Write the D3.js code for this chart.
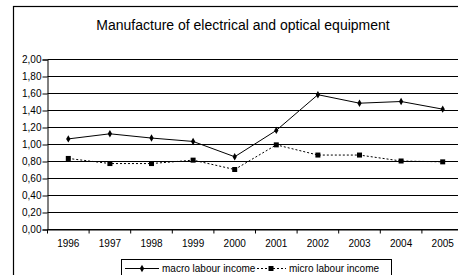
<!DOCTYPE html>
<html>
<head>
<meta charset="utf-8">
<script src="https://cdn.jsdelivr.net/npm/d3@7"></script>
<style>
  body { margin: 0; background: #fff; }
  svg { display: block; font-family: "Liberation Sans", Arial, sans-serif; }
</style>
</head>
<body>
<div id="chart"></div>
<script>
// data
var years = ["1996","1997","1998","1999","2000","2001","2002","2003","2004","2005"];
var macroIncome = [1.06, 1.12, 1.07, 1.03, 0.85, 1.16, 1.58, 1.48, 1.50, 1.41];
var microIncome = [0.83, 0.77, 0.77, 0.81, 0.70, 0.99, 0.87, 0.87, 0.80, 0.79];
var yTicks = [0, 0.2, 0.4, 0.6, 0.8, 1.0, 1.2, 1.4, 1.6, 1.8, 2.0];
var seriesNames = ["macro labour income", "micro labour income"];

var W = 458, H = 275;

var svg = d3.select("#chart")
  .append("svg")
    .attr("width", W)
    .attr("height", H);

// outer chart frame (runs off the right and bottom of the picture)
svg.append("rect")
  .attr("x", 13.5)
  .attr("y", 6.5)
  .attr("width", 500)
  .attr("height", 300)
  .attr("fill", "#fff")
  .attr("stroke", "#000")
  .attr("stroke-width", 1.2);

svg.append("text")
  .attr("x", 243)
  .attr("y", 30)
  .attr("text-anchor", "middle")
  .style("font-size", "14px")
  .style("fill", "#000")
  .text("Manufacture of electrical and optical equipment");

var plotL = 47.5, plotR = 463.5, plotT = 59, plotB = 229;

var x = d3.scaleBand()
  .domain(years)
  .range([plotL, plotR]);

var y = d3.scaleLinear()
  .domain([0, 2])
  .range([plotB, plotT]);

// gridlines
svg.append("g")
  .selectAll("line")
  .data(yTicks)
  .enter()
  .append("line")
    .attr("x1", plotL)
    .attr("x2", plotR)
    .attr("y1", function(d){ return Math.round(y(d)) + 0.5; })
    .attr("y2", function(d){ return Math.round(y(d)) + 0.5; })
    .attr("stroke", "#000")
    .attr("stroke-width", 1);

// y axis
var yAxis = svg.append("g")
  .attr("transform", "translate(" + plotL + ",0.5)")
  .call(d3.axisLeft(y)
    .tickValues(yTicks)
    .tickSize(5)
    .tickPadding(1)
    .tickFormat(function(d){ return d3.format(".2f")(d).replace(".", ","); }));

// x axis, ticks sit between the categories
var xAxis = svg.append("g")
  .attr("transform", "translate(0," + (Math.round(plotB) + 0.5) + ")")
  .call(d3.axisBottom(x).tickSize(0).tickPadding(10));

xAxis.selectAll(".tick")
  .append("line")
    .attr("x1", -x.bandwidth() / 2)
    .attr("x2", -x.bandwidth() / 2)
    .attr("y1", 0)
    .attr("y2", 4)
    .attr("stroke", "#000");

svg.selectAll(".domain").attr("stroke", "#000");
svg.selectAll(".tick text")
  .style("font-size", "10px")
  .style("font-family", "\"Liberation Sans\", Arial, sans-serif")
  .style("fill", "#000");

function cx(d, i) { return x(years[i]) + x.bandwidth() / 2; }

var line = d3.line()
  .x(cx)
  .y(function(d){ return y(d); });

// micro series, dotted with squares
svg.append("path")
  .datum(microIncome)
  .attr("fill", "none")
  .attr("stroke", "#000")
  .attr("stroke-width", 1)
  .attr("stroke-dasharray", "2,2")
  .attr("d", line);

svg.selectAll(".sq")
  .data(microIncome)
  .enter()
  .append("rect")
    .attr("class", "sq")
    .attr("x", function(d, i){ return cx(d, i) - 2.5; })
    .attr("y", function(d){ return y(d) - 2.5; })
    .attr("width", 5)
    .attr("height", 5)
    .attr("fill", "#000");

// macro series, solid with diamonds
svg.append("path")
  .datum(macroIncome)
  .attr("fill", "none")
  .attr("stroke", "#000")
  .attr("stroke-width", 1)
  .attr("d", line);

var diamond = d3.symbol().type(d3.symbolDiamond).size(16);

svg.selectAll(".dm")
  .data(macroIncome)
  .enter()
  .append("path")
    .attr("class", "dm")
    .attr("d", diamond)
    .attr("transform", function(d, i){ return "translate(" + cx(d, i) + "," + y(d) + ")"; })
    .attr("fill", "#000");

// legend
var legend = svg.append("g");

legend.append("rect")
  .attr("x", 121.5)
  .attr("y", 259.5)
  .attr("width", 270)
  .attr("height", 30)
  .attr("fill", "#fff")
  .attr("stroke", "#000")
  .attr("stroke-width", 1);

legend.append("line")
  .attr("x1", 125).attr("x2", 159)
  .attr("y1", 268.5).attr("y2", 268.5)
  .attr("stroke", "#000");
legend.append("path")
  .attr("d", diamond)
  .attr("transform", "translate(142,268.5)")
  .attr("fill", "#000");
legend.append("text")
  .attr("x", 162)
  .attr("y", 272)
  .style("font-size", "10px")
  .text(seriesNames[0]);

legend.append("line")
  .attr("x1", 257).attr("x2", 286)
  .attr("y1", 268.5).attr("y2", 268.5)
  .attr("stroke", "#000")
  .attr("stroke-dasharray", "2,2");
legend.append("rect")
  .attr("x", 268.5).attr("y", 266)
  .attr("width", 5).attr("height", 5)
  .attr("fill", "#000");
legend.append("text")
  .attr("x", 289)
  .attr("y", 272)
  .style("font-size", "10px")
  .text(seriesNames[1]);
</script>
</body>
</html>
